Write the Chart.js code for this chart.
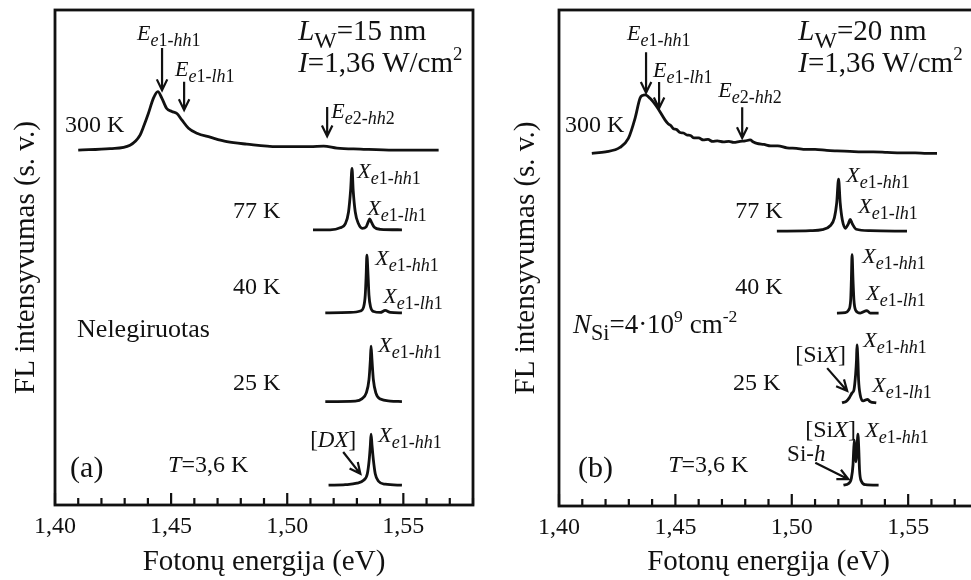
<!DOCTYPE html>
<html>
<head>
<meta charset="utf-8">
<script src="https://cdn.jsdelivr.net/npm/chart.js@4.4.1/dist/chart.umd.min.js"></script>
<style>
  html, body { margin: 0; padding: 0; background: #fff; }
  body { width: 971px; height: 580px; overflow: hidden; position: relative; }
  .panel { position: absolute; top: 0; height: 580px; }
  #wrapA { left: 0; width: 490px; }
  #wrapB { left: 500px; width: 500px; }
</style>
</head>
<body>
<div class="panel" id="wrapA"><canvas id="chartA" width="490" height="580"></canvas></div>
<div class="panel" id="wrapB"><canvas id="chartB" width="500" height="580"></canvas></div>
<script>
const FONT = "Liberation Serif";
const INK = "#111";

const xTicks = [1.40, 1.45, 1.50, 1.55];
const xMin = 1.40, xMax = 1.58;

// (a) undoped QW, Lw = 15 nm  -- photon energy (eV) / PL intensity (arb., stacked)
const a300E = [1.4100, 1.4237, 1.4323, 1.4366, 1.4381, 1.4402, 1.4424, 1.4443, 1.4460, 1.4481, 1.4503, 1.4525, 1.4546, 1.4575, 1.4611, 1.4668, 1.4740, 1.4826, 1.4956, 1.5099, 1.5157, 1.5214, 1.5315, 1.5458, 1.5652];
const a300I = [71.7, 72.0, 72.7, 74.7, 76.4, 79.1, 82.2, 83.5, 82.2, 80.1, 79.5, 79.1, 77.8, 76.1, 75.1, 74.3, 73.4, 72.9, 72.4, 72.4, 72.5, 72.1, 71.9, 71.7, 71.7];
const a77E = [1.5111, 1.5185, 1.5228, 1.5250, 1.5264, 1.5273, 1.5279, 1.5284, 1.5293, 1.5307, 1.5323, 1.5340, 1.5349, 1.5355, 1.5362, 1.5375, 1.5401, 1.5494];
const a77I = [55.6, 55.6, 56.0, 56.8, 59.2, 63.6, 68.0, 63.6, 59.2, 56.8, 55.9, 56.2, 57.2, 57.8, 57.2, 56.1, 55.7, 55.6];
const a40E = [1.5164, 1.5271, 1.5315, 1.5329, 1.5336, 1.5340, 1.5343, 1.5348, 1.5352, 1.5359, 1.5372, 1.5401, 1.5422, 1.5444, 1.5494];
const a40I = [38.8, 38.9, 39.2, 40.0, 42.4, 46.5, 50.5, 46.5, 42.4, 40.0, 39.1, 38.9, 39.3, 38.9, 38.8];
const a25E = [1.5164, 1.5293, 1.5323, 1.5340, 1.5352, 1.5358, 1.5361, 1.5365, 1.5371, 1.5382, 1.5401, 1.5444, 1.5494];
const a25I = [20.9, 21.0, 21.5, 22.6, 25.3, 29.3, 32.1, 29.3, 25.3, 22.6, 21.4, 21.0, 20.9];
const a4E = [1.5178, 1.5250, 1.5300, 1.5329, 1.5345, 1.5353, 1.5358, 1.5361, 1.5365, 1.5371, 1.5379, 1.5393, 1.5422, 1.5494];
const a4I = [4.0, 4.1, 4.4, 5.0, 6.3, 9.1, 12.1, 14.3, 12.1, 9.1, 6.3, 4.8, 4.2, 4.0];

// (b) Si delta-doped QW, Lw = 20 nm
const b300E = [1.4141, 1.4200, 1.4262, 1.4298, 1.4327, 1.4348, 1.4360, 1.4370, 1.4391, 1.4420, 1.4456, 1.4470, 1.4480, 1.4491, 1.4505, 1.4520, 1.4535, 1.4549, 1.4565, 1.4580, 1.4600, 1.4620, 1.4640, 1.4660, 1.4680, 1.4706, 1.4730, 1.4750, 1.4778, 1.4800, 1.4821, 1.4835, 1.4850, 1.4880, 1.4910, 1.4940, 1.4979, 1.5020, 1.5060, 1.5100, 1.5150, 1.5194, 1.5250, 1.5300, 1.5350, 1.5409, 1.5470, 1.5530, 1.5580, 1.5624];
const b300I = [71.1, 71.4, 72.3, 74.1, 78.2, 82.2, 82.8, 82.9, 82.2, 80.5, 77.8, 77.0, 76.7, 76.1, 75.9, 75.3, 75.2, 74.8, 74.7, 74.2, 74.2, 73.8, 73.9, 73.5, 73.6, 73.4, 73.5, 73.3, 73.5, 73.6, 73.8, 73.4, 73.1, 72.9, 72.6, 72.6, 72.2, 72.1, 71.9, 71.9, 71.7, 71.6, 71.5, 71.4, 71.4, 71.3, 71.2, 71.2, 71.1, 71.1];
const b77E = [1.4936, 1.5079, 1.5131, 1.5165, 1.5183, 1.5193, 1.5201, 1.5208, 1.5217, 1.5230, 1.5243, 1.5251, 1.5260, 1.5277, 1.5337, 1.5495];
const b77I = [55.4, 55.5, 55.7, 56.5, 58.1, 61.1, 65.9, 61.1, 57.7, 56.0, 56.9, 57.8, 56.9, 55.8, 55.5, 55.4];
const b40E = [1.5194, 1.5230, 1.5244, 1.5253, 1.5256, 1.5259, 1.5263, 1.5267, 1.5274, 1.5294, 1.5323, 1.5337, 1.5373];
const b40I = [38.9, 39.0, 39.5, 41.5, 45.6, 50.7, 45.6, 41.5, 39.5, 38.9, 39.4, 38.9, 38.9];
const b25E = [1.5216, 1.5234, 1.5247, 1.5259, 1.5267, 1.5274, 1.5278, 1.5280, 1.5284, 1.5287, 1.5294, 1.5307, 1.5326, 1.5337, 1.5363];
const b25I = [20.8, 21.1, 21.8, 22.8, 23.4, 26.4, 29.4, 32.5, 29.4, 25.4, 22.4, 21.2, 21.5, 21.0, 20.8];
const b4E = [1.5222, 1.5243, 1.5256, 1.5263, 1.5266, 1.5269, 1.5272, 1.5276, 1.5279, 1.5282, 1.5284, 1.5288, 1.5291, 1.5299, 1.5316, 1.5373];
const b4I = [4.2, 4.5, 5.6, 8.3, 11.3, 13.3, 10.3, 8.9, 11.3, 13.3, 14.5, 11.3, 7.3, 5.0, 4.3, 4.2];

// annotations: [text, energy, intensity, font px]  (*italic*, _{sub}, ^{sup})
const aLabels = [
  ["*E*_{*e*1-*hh*1}", 1.4353, 93.9, 22],
  ["*E*_{*e*1-*lh*1}", 1.4517, 86.7, 22],
  ["*E*_{*e*2-*hh*2}", 1.5190, 78.2, 22],
  ["*L*_{W}=15 nm", 1.5047, 93.9, 29],
  ["*I*=1,36 W/cm^{2}", 1.5047, 87.5, 29],
  ["300 K", 1.4043, 75.4, 24],
  ["*X*_{*e*1-*hh*1}", 1.5302, 66.1, 22],
  ["*X*_{*e*1-*lh*1}", 1.5345, 58.6, 22],
  ["77 K", 1.4767, 58.0, 24],
  ["*X*_{*e*1-*hh*1}", 1.5379, 48.5, 22],
  ["*X*_{*e*1-*lh*1}", 1.5414, 40.8, 22],
  ["40 K", 1.4767, 42.6, 24],
  ["Nelegiruotas", 1.4095, 33.9, 26],
  ["*X*_{*e*1-*hh*1}", 1.5392, 30.9, 22],
  ["25 K", 1.4767, 23.2, 24],
  ["[*DX*]", 1.5099, 11.7, 23],
  ["*X*_{*e*1-*hh*1}", 1.5392, 12.7, 22],
  ["*T*=3,6 K", 1.4487, 6.7, 24],
  ["(a)", 1.4065, 5.7, 30]
];
const aArrows = [
  [1.4461, 92.3, 1.4461, 83.8],
  [1.4556, 85.5, 1.4556, 79.8],
  [1.5172, 80.4, 1.5172, 74.5],
  [1.5241, 10.7, 1.5315, 6.3]
];
const bLabels = [
  ["*E*_{*e*1-*hh*1}", 1.4292, 94.0, 22],
  ["*E*_{*e*1-*lh*1}", 1.4404, 86.5, 22],
  ["*E*_{*e*2-*hh*2}", 1.4684, 82.5, 22],
  ["*L*_{W}=20 nm", 1.5028, 94.0, 29],
  ["*I*=1,36 W/cm^{2}", 1.5028, 87.5, 29],
  ["300 K", 1.4026, 75.4, 24],
  ["*X*_{*e*1-*hh*1}", 1.5234, 65.3, 22],
  ["*X*_{*e*1-*lh*1}", 1.5286, 59.1, 22],
  ["77 K", 1.4757, 58.1, 24],
  ["*X*_{*e*1-*hh*1}", 1.5303, 49.0, 22],
  ["*X*_{*e*1-*lh*1}", 1.5320, 41.5, 22],
  ["40 K", 1.4757, 42.7, 24],
  ["*N*_{Si}=4·10^{9} cm^{-2}", 1.4060, 34.9, 27],
  ["[Si*X*]", 1.5015, 29.0, 24],
  ["*X*_{*e*1-*hh*1}", 1.5307, 32.1, 22],
  ["*X*_{*e*1-*lh*1}", 1.5346, 23.0, 22],
  ["25 K", 1.4748, 23.4, 24],
  ["[Si*X*]", 1.5058, 13.9, 24],
  ["*X*_{*e*1-*hh*1}", 1.5316, 13.9, 22],
  ["Si-*h*", 1.4980, 9.1, 23],
  ["*T*=3,6 K", 1.4469, 6.9, 24],
  ["(b)", 1.4082, 5.8, 30]
];
const bArrows = [
  [1.4374, 91.5, 1.4374, 83.3],
  [1.4430, 85.5, 1.4430, 80.2],
  [1.4787, 80.4, 1.4787, 74.2],
  [1.5152, 27.8, 1.5238, 23.2],
  [1.5101, 8.7, 1.5243, 5.4]
];

function parseRich(str) {
  const segs = [];
  let italic = false, mode = 0, buf = "";
  const push = () => { if (buf) segs.push({ t: buf, it: italic, mode: mode }); buf = ""; };
  for (let k = 0; k < str.length; k++) {
    const c = str[k];
    if (c === "*") { push(); italic = !italic; }
    else if ((c === "_" || c === "^") && str[k + 1] === "{") { push(); mode = c === "_" ? 1 : 2; k++; }
    else if (c === "}") { push(); mode = 0; }
    else buf += c;
  }
  push();
  return segs;
}

function drawRich(ctx, str, x, y, size) {
  let cx = x;
  parseRich(str).forEach(function (s) {
    const sz = s.mode === 0 ? size : s.mode === 1 ? size * 0.82 : size * 0.65;
    const dy = s.mode === 1 ? size * 0.28 : s.mode === 2 ? -size * 0.4 : 0;
    ctx.font = (s.it ? "italic " : "") + sz.toFixed(1) + "px '" + FONT + "'";
    ctx.fillText(s.t, cx, y + dy);
    cx += ctx.measureText(s.t).width;
  });
}

// frame, inward ticks, arrows and text labels
function makeDecor(labels, arrows) {
  return {
    id: "decor",
    afterDatasetsDraw(chart) {
      const { ctx, chartArea: ca, scales: { x, y } } = chart;
      ctx.save();
      ctx.strokeStyle = INK;
      ctx.fillStyle = INK;
      ctx.lineWidth = 2.8;
      ctx.strokeRect(ca.left, ca.top, ca.right - ca.left, ca.bottom - ca.top);

      ctx.lineWidth = 2.2;
      const n = Math.round((xMax - xMin) / 0.01);
      for (let k = 0; k <= n; k++) {
        const px = x.getPixelForValue(xMin + k * 0.01);
        const len = k % 5 === 0 ? 12 : 7;
        ctx.beginPath();
        ctx.moveTo(px, ca.bottom);
        ctx.lineTo(px, ca.bottom - len);
        ctx.stroke();
      }

      ctx.lineWidth = 2.2;
      arrows.forEach(function (a) {
        const x1 = x.getPixelForValue(a[0]), y1 = y.getPixelForValue(a[1]);
        const x2 = x.getPixelForValue(a[2]), y2 = y.getPixelForValue(a[3]);
        const ang = Math.atan2(y2 - y1, x2 - x1);
        const h = 12, w = 0.45;
        ctx.beginPath();
        ctx.moveTo(x1, y1);
        ctx.lineTo(x2, y2);
        ctx.moveTo(x2 - h * Math.cos(ang - w), y2 - h * Math.sin(ang - w));
        ctx.lineTo(x2, y2);
        ctx.lineTo(x2 - h * Math.cos(ang + w), y2 - h * Math.sin(ang + w));
        ctx.stroke();
      });

      ctx.textAlign = "left";
      ctx.textBaseline = "alphabetic";
      labels.forEach(function (l) {
        drawRich(ctx, l[0], x.getPixelForValue(l[1]), y.getPixelForValue(l[2]), l[3]);
      });
      ctx.restore();
    }
  };
}

function makeChart(id, sets, labels, arrows, yWidth, xHeight, padRight) {
  return new Chart(document.getElementById(id), {
    type: "line",
    data: {
      datasets: sets.map(function (s) {
        return {
          data: s[0].map(function (e, k) { return { x: e, y: s[1][k] }; }),
          borderColor: INK,
          borderWidth: 2.8,
          pointRadius: 0,
          cubicInterpolationMode: "monotone",
          fill: false
        };
      })
    },
    options: {
      responsive: false,
      animation: false,
      layout: { padding: { top: 10, right: padRight, left: 0, bottom: 0 } },
      plugins: { legend: { display: false }, tooltip: { enabled: false } },
      scales: {
        x: {
          type: "linear",
          min: xMin,
          max: xMax,
          afterBuildTicks: function (s) { s.ticks = xTicks.map(function (v) { return { value: v }; }); },
          afterFit: function (s) { s.height = xHeight; },
          grid: { display: false, drawTicks: false },
          border: { display: false },
          ticks: {
            padding: 7,
            color: INK,
            maxRotation: 0,
            font: { family: FONT, size: 24 },
            callback: function (v) { return v.toFixed(2).replace(".", ","); }
          },
          title: { display: true, text: "Fotonų energija (eV)", color: INK, font: { family: FONT, size: 29 }, padding: 0 }
        },
        y: {
          min: 0,
          max: 100,
          afterFit: function (s) { s.width = yWidth; },
          grid: { display: false, drawTicks: false },
          border: { display: false },
          ticks: { display: false },
          title: { display: true, text: "FL intensyvumas (s. v.)", color: INK, font: { family: FONT, size: 29 }, padding: { top: 9, bottom: 0 } }
        }
      }
    },
    plugins: [makeDecor(labels, arrows)]
  });
}

makeChart("chartA", [[a300E, a300I], [a77E, a77I], [a40E, a40I], [a25E, a25I], [a4E, a4I]], aLabels, aArrows, 55, 75, 17);
makeChart("chartB", [[b300E, b300I], [b77E, b77I], [b40E, b40I], [b25E, b25I], [b4E, b4I]], bLabels, bArrows, 59, 74, 22);
</script>
</body>
</html>
